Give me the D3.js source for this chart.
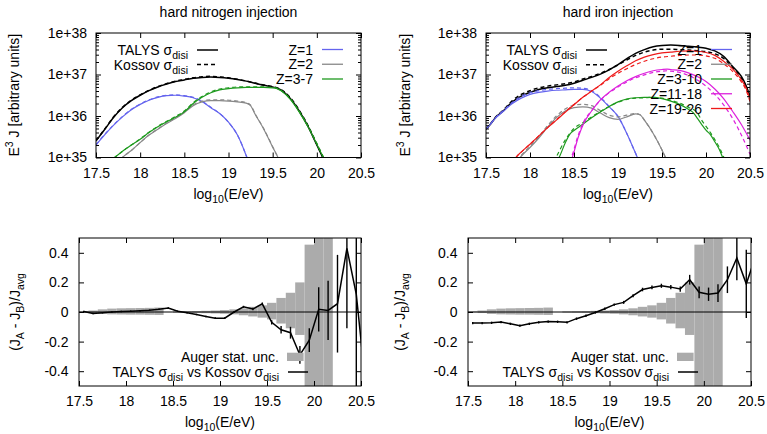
<!DOCTYPE html>
<html>
<head>
<meta charset="utf-8">
<script src="https://cdn.jsdelivr.net/npm/d3@7"></script>
<style>
body { margin: 0; background: #fff; }
text { white-space: pre; }
</style>
</head>
<body>
<div id="chart"></div>
<script>
var FONT = "'Liberation Sans', Arial, Helvetica, sans-serif";

// axis ticks
var xTicks = [17.5, 18, 18.5, 19, 19.5, 20, 20.5];
var xTickLabels = ["17.5", "18", "18.5", "19", "19.5", "20", "20.5"];
var fluxTicks = [1e35, 1e36, 1e37, 1e38];
var fluxTickLabels = ["1e+35", "1e+36", "1e+37", "1e+38"];
var ratioTicks = [-0.4, -0.2, 0, 0.2, 0.4];
var ratioTickLabels = ["-0.4", "-0.2", "0", "0.2", "0.4"];

// E^3 J spectra, [log10(E/eV), log10(E^3 J)]
// hard nitrogen injection
var nTalysAll = [[17.5,35.4],[17.6,35.68],[17.7,35.97],[17.8,36.2],[17.9,36.37],[18.0,36.5],[18.1,36.61],[18.2,36.7],[18.3,36.77],[18.4,36.83],[18.5,36.87],[18.6,36.91],[18.7,36.93],[18.8,36.94],[18.9,36.93],[19.0,36.91],[19.1,36.88],[19.2,36.84],[19.3,36.79],[19.4,36.74],[19.5,36.7],[19.55,36.67],[19.6,36.62],[19.7,36.42],[19.8,36.12],[19.9,35.75],[20.0,35.3],[20.1,34.85]];
var nKossovAll = [[17.5,35.41],[17.6,35.69],[17.7,35.98],[17.8,36.21],[17.9,36.38],[18.0,36.51],[18.1,36.62],[18.2,36.71],[18.3,36.78],[18.4,36.84],[18.5,36.88],[18.6,36.92],[18.7,36.945],[18.8,36.955],[18.9,36.94],[19.0,36.92],[19.1,36.885],[19.2,36.845],[19.3,36.795],[19.4,36.745],[19.5,36.705],[19.55,36.675],[19.6,36.63],[19.7,36.44],[19.8,36.14],[19.9,35.77],[20.0,35.32],[20.1,34.87]];
var nTalysZ1 = [[17.5,35.3],[17.6,35.55],[17.7,35.78],[17.8,35.98],[17.9,36.15],[18.0,36.28],[18.1,36.38],[18.2,36.45],[18.3,36.49],[18.4,36.5],[18.5,36.48],[18.6,36.44],[18.7,36.35],[18.8,36.2],[18.9,36.06],[19.0,35.85],[19.1,35.55],[19.2,35.05],[19.25,34.75]];
var nKossovZ1 = [[17.5,35.31],[17.6,35.56],[17.7,35.79],[17.8,35.99],[17.9,36.16],[18.0,36.29],[18.1,36.39],[18.2,36.46],[18.3,36.5],[18.4,36.51],[18.5,36.49],[18.6,36.45],[18.7,36.36],[18.8,36.21],[18.9,36.06],[19.0,35.85],[19.1,35.55],[19.2,35.05],[19.25,34.75]];
var nTalysZ2 = [[17.78,34.95],[17.8,35.0],[17.9,35.17],[18.0,35.36],[18.1,35.54],[18.2,35.68],[18.3,35.82],[18.4,35.94],[18.5,36.08],[18.6,36.25],[18.7,36.34],[18.8,36.37],[18.9,36.37],[19.0,36.36],[19.1,36.34],[19.2,36.31],[19.25,36.25],[19.3,36.05],[19.4,35.68],[19.5,35.25],[19.56,35.0],[19.6,34.8]];
var nKossovZ2 = [[17.78,34.95],[17.8,35.0],[17.9,35.17],[18.0,35.36],[18.1,35.54],[18.2,35.69],[18.3,35.83],[18.4,35.96],[18.5,36.1],[18.6,36.27],[18.7,36.36],[18.8,36.39],[18.9,36.39],[19.0,36.38],[19.1,36.36],[19.2,36.32],[19.25,36.26],[19.3,36.06],[19.4,35.69],[19.5,35.26],[19.56,35.0],[19.6,34.8]];
var nTalysZ3 = [[17.7,34.98],[17.8,35.15],[17.9,35.3],[18.0,35.44],[18.1,35.6],[18.2,35.74],[18.3,35.86],[18.4,35.97],[18.5,36.1],[18.6,36.3],[18.7,36.45],[18.8,36.56],[18.9,36.63],[19.0,36.66],[19.1,36.68],[19.2,36.69],[19.3,36.69],[19.4,36.69],[19.5,36.68],[19.55,36.66],[19.6,36.6],[19.7,36.4],[19.8,36.1],[19.9,35.74],[20.0,35.32],[20.1,34.88]];
var nKossovZ3 = [[17.7,34.98],[17.8,35.15],[17.9,35.3],[18.0,35.45],[18.1,35.61],[18.2,35.75],[18.3,35.87],[18.4,35.99],[18.5,36.12],[18.6,36.32],[18.7,36.47],[18.8,36.58],[18.9,36.65],[19.0,36.68],[19.1,36.7],[19.2,36.705],[19.3,36.705],[19.4,36.7],[19.5,36.69],[19.55,36.67],[19.6,36.61],[19.7,36.42],[19.8,36.12],[19.9,35.76],[20.0,35.34],[20.1,34.9]];

// hard iron injection
var fTalysAll = [[17.5,35.68],[17.55,35.8],[17.6,35.94],[17.7,36.13],[17.8,36.34],[17.9,36.48],[18.0,36.57],[18.1,36.64],[18.2,36.68],[18.3,36.71],[18.4,36.74],[18.5,36.79],[18.6,36.86],[18.7,36.93],[18.8,37.01],[18.9,37.11],[19.0,37.24],[19.1,37.38],[19.2,37.51],[19.3,37.6],[19.4,37.67],[19.5,37.7],[19.6,37.71],[19.7,37.7],[19.8,37.68],[19.9,37.66],[20.0,37.63],[20.1,37.57],[20.2,37.44],[20.3,37.2],[20.4,36.96],[20.45,36.76],[20.5,36.48]];
var fKossovAll = [[17.5,35.69],[17.55,35.81],[17.6,35.95],[17.7,36.15],[17.8,36.37],[17.9,36.52],[18.0,36.61],[18.1,36.68],[18.2,36.72],[18.3,36.75],[18.4,36.78],[18.5,36.82],[18.6,36.89],[18.7,36.95],[18.8,37.03],[18.9,37.12],[19.0,37.23],[19.1,37.35],[19.2,37.46],[19.3,37.54],[19.4,37.59],[19.5,37.61],[19.6,37.61],[19.7,37.6],[19.8,37.59],[19.9,37.57],[20.0,37.55],[20.1,37.5],[20.2,37.39],[20.3,37.17],[20.4,36.92],[20.45,36.72],[20.5,36.42]];
var fTalysZ1 = [[17.5,35.68],[17.55,35.8],[17.6,35.93],[17.7,36.12],[17.8,36.3],[17.9,36.43],[18.0,36.52],[18.1,36.57],[18.2,36.6],[18.3,36.62],[18.4,36.63],[18.5,36.64],[18.6,36.64],[18.7,36.59],[18.8,36.43],[18.9,36.22],[19.0,35.99],[19.1,35.58],[19.2,35.1],[19.25,34.85]];
var fKossovZ1 = [[17.5,35.69],[17.55,35.81],[17.6,35.94],[17.7,36.14],[17.8,36.33],[17.9,36.47],[18.0,36.56],[18.1,36.61],[18.2,36.64],[18.3,36.66],[18.4,36.67],[18.5,36.68],[18.6,36.67],[18.7,36.61],[18.8,36.45],[18.9,36.23],[19.0,35.99],[19.1,35.58],[19.2,35.1],[19.25,34.85]];
var fTalysZ2 = [[17.85,34.9],[17.9,35.03],[18.0,35.24],[18.1,35.47],[18.2,35.73],[18.3,35.96],[18.4,36.12],[18.5,36.2],[18.6,36.22],[18.7,36.19],[18.8,36.07],[18.9,35.96],[19.0,35.92],[19.1,35.98],[19.2,36.05],[19.25,36.03],[19.3,35.9],[19.4,35.58],[19.5,35.18],[19.55,34.95]];
var fKossovZ2 = [[17.85,34.92],[17.9,35.05],[18.0,35.27],[18.1,35.5],[18.2,35.77],[18.3,36.0],[18.4,36.17],[18.5,36.26],[18.6,36.28],[18.7,36.25],[18.8,36.13],[18.9,36.02],[19.0,35.98],[19.1,36.02],[19.2,36.06],[19.25,36.03],[19.3,35.9],[19.4,35.58],[19.5,35.18],[19.55,34.95]];
var fTalysZ3 = [[18.3,34.9],[18.33,35.0],[18.4,35.35],[18.46,35.58],[18.5,35.65],[18.6,35.8],[18.7,35.96],[18.8,36.1],[18.9,36.23],[19.0,36.34],[19.1,36.41],[19.2,36.44],[19.3,36.45],[19.4,36.45],[19.5,36.42],[19.6,36.36],[19.7,36.28],[19.8,36.16],[19.86,36.07],[19.9,35.95],[19.95,35.8],[20.0,35.66],[20.05,35.55],[20.1,35.38],[20.15,35.2],[20.19,35.0],[20.22,34.85]];
var fKossovZ3 = [[18.27,34.9],[18.3,35.02],[18.4,35.42],[18.5,35.7],[18.6,35.84],[18.7,35.98],[18.8,36.11],[18.9,36.23],[19.0,36.33],[19.1,36.4],[19.2,36.43],[19.3,36.44],[19.4,36.45],[19.5,36.43],[19.6,36.38],[19.7,36.31],[19.8,36.21],[19.9,36.08],[19.95,35.9],[20.0,35.75],[20.05,35.6],[20.1,35.43],[20.15,35.25],[20.2,35.02],[20.23,34.88]];
var fTalysZ11 = [[18.46,34.9],[18.48,35.0],[18.55,35.5],[18.61,35.82],[18.7,36.12],[18.8,36.39],[18.9,36.57],[19.0,36.72],[19.1,36.85],[19.2,36.95],[19.3,37.03],[19.4,37.09],[19.5,37.12],[19.56,37.13],[19.6,37.12],[19.7,37.1],[19.8,37.04],[19.9,36.95],[20.0,36.83],[20.1,36.65],[20.2,36.42],[20.3,36.12],[20.4,35.8],[20.5,35.42]];
var fKossovZ11 = [[18.45,34.9],[18.47,35.0],[18.55,35.55],[18.6,35.82],[18.7,36.13],[18.8,36.38],[18.9,36.56],[19.0,36.7],[19.1,36.82],[19.2,36.92],[19.3,36.99],[19.4,37.05],[19.5,37.08],[19.56,37.09],[19.6,37.08],[19.7,37.05],[19.8,36.98],[19.9,36.87],[20.0,36.72],[20.1,36.52],[20.2,36.27],[20.3,35.95],[20.4,35.55],[20.5,35.08]];
var fTalysZ19 = [[17.8,34.85],[17.84,35.0],[17.9,35.13],[18.0,35.32],[18.1,35.52],[18.2,35.72],[18.3,35.9],[18.4,36.09],[18.5,36.27],[18.6,36.45],[18.7,36.6],[18.8,36.75],[18.9,36.93],[19.0,37.08],[19.1,37.21],[19.2,37.33],[19.3,37.42],[19.4,37.48],[19.5,37.52],[19.6,37.54],[19.7,37.56],[19.8,37.57],[19.9,37.56],[20.0,37.53],[20.1,37.46],[20.2,37.32],[20.3,37.14],[20.4,36.88],[20.45,36.7],[20.5,36.4]];
var fKossovZ19 = [[17.8,34.85],[17.84,35.0],[17.9,35.13],[18.0,35.32],[18.1,35.52],[18.2,35.72],[18.3,35.91],[18.4,36.1],[18.5,36.28],[18.6,36.45],[18.7,36.6],[18.8,36.74],[18.9,36.9],[19.0,37.03],[19.1,37.14],[19.2,37.24],[19.3,37.32],[19.4,37.38],[19.5,37.42],[19.6,37.44],[19.7,37.46],[19.8,37.47],[19.9,37.47],[20.0,37.45],[20.1,37.39],[20.2,37.26],[20.3,37.08],[20.4,36.83],[20.45,36.65],[20.5,36.35]];

// Auger statistical uncertainty, bins of 0.1 in log10(E)
var augerBinLo = [17.5,17.6,17.7,17.8,17.9,18.0,18.1,18.2,18.3,18.4,18.5,18.6,18.7,18.8,18.9,19.0,19.1,19.2,19.3,19.4,19.5,19.6,19.7,19.8,19.9,20.0,20.1];
var augerUp   = [0.004,0.01,0.018,0.023,0.025,0.026,0.027,0.028,0.03,0,0.004,0.005,0.006,0.008,0.01,0.013,0.018,0.025,0.035,0.045,0.062,0.095,0.13,0.2,0.455,0.6,0.6];
var augerDown = [0.003,0.007,0.013,0.016,0.017,0.018,0.018,0.019,0.02,0,0.004,0.005,0.006,0.008,0.01,0.012,0.016,0.022,0.03,0.038,0.05,0.078,0.11,0.155,0.6,0.6,0.6];

// (J_A - J_B)/J_avg, TALYS vs Kossov
var ratioE = [17.55,17.65,17.75,17.85,17.95,18.05,18.15,18.25,18.35,18.45,18.55,18.65,18.75,18.85,18.95,19.05,19.15,19.25,19.35,19.45,19.55,19.65,19.75,19.85,19.95,20.05,20.15,20.25,20.35,20.45,20.55];
var nRatio = [0.003,-0.01,-0.005,0.0,0.003,0.005,0.008,0.012,0.018,0.027,0.005,-0.005,-0.017,-0.03,-0.042,-0.042,0.0,0.035,0.02,0.055,-0.07,-0.12,-0.14,-0.29,-0.19,0.018,0.011,0.056,0.43,0.12,-0.5];
var nRatioErr = [0.005,0.005,0.005,0.005,0.005,0.005,0.005,0.005,0.005,0.005,0.005,0.005,0.005,0.005,0.006,0.006,0.006,0.007,0.008,0.01,0.015,0.025,0.04,0.06,0.08,0.15,0.2,0.33,0.54,0.7,0.9];
var fRatio = [-0.075,-0.075,-0.073,-0.068,-0.08,-0.092,-0.08,-0.07,-0.065,-0.066,-0.07,-0.045,-0.025,-0.003,0.022,0.05,0.065,0.11,0.152,0.166,0.177,0.168,0.155,0.218,0.133,0.12,0.128,0.218,0.365,0.19,0.38];
var fRatioErr = [0.008,0.008,0.008,0.008,0.008,0.008,0.008,0.008,0.008,0.008,0.008,0.008,0.008,0.008,0.008,0.008,0.01,0.01,0.012,0.013,0.014,0.015,0.018,0.033,0.04,0.045,0.06,0.09,0.15,0.23,0.35];

var BLUE = "#6464ee", GREY = "#888888", GREEN = "#1e9a1e", MAGENTA = "#dd22dd", RED = "#ee1a1a";

var svg = d3.select("#chart").append("svg")
    .attr("width", 767)
    .attr("height", 434);

function richText(parent, parts, attrs) {
  var t = parent.append("text")
    .attr("font-family", FONT)
    .attr("font-size", 14)
    .attr("fill", "#000");
  Object.keys(attrs).forEach(function(k) { t.attr(k, attrs[k]); });
  var off = 0;
  parts.forEach(function(p) {
    var kind = p[1] || "";
    var target = kind == "sub" ? 4 : (kind == "sup" ? -6 : 0);
    t.append("tspan")
      .attr("dy", target - off)
      .attr("font-size", kind ? 10.5 : 14)
      .text(p[0]);
    off = target;
  });
  return t;
}

function frameAxes(g, x, y, box, yTicks, yLabels, yMinor, yPad) {
  var fmtX = function(d) { return xTickLabels[xTicks.indexOf(d)]; };
  var fmtY = function(d) { return yLabels[yTicks.indexOf(d)]; };
  var styleAxis = function(a) {
    a.attr("font-family", FONT).attr("font-size", 14);
    a.select(".domain").remove();
    a.selectAll("text").attr("fill", "#000");
  };
  g.append("g").attr("transform", "translate(0," + box.y1 + ")")
    .call(d3.axisBottom(x).tickValues(xTicks).tickFormat(fmtX).tickSizeInner(-5).tickSizeOuter(0).tickPadding(10.5))
    .call(styleAxis);
  g.append("g").attr("transform", "translate(0," + box.y0 + ")")
    .call(d3.axisTop(x).tickValues(xTicks).tickFormat("").tickSizeInner(-5).tickSizeOuter(0))
    .call(styleAxis);
  g.append("g").attr("transform", "translate(" + box.x0 + ",0)")
    .call(d3.axisLeft(y).tickValues(yTicks).tickFormat(fmtY).tickSizeInner(-5).tickSizeOuter(0).tickPadding(yPad))
    .call(styleAxis);
  g.append("g").attr("transform", "translate(" + box.x1 + ",0)")
    .call(d3.axisRight(y).tickValues(yTicks).tickFormat("").tickSizeInner(-5).tickSizeOuter(0))
    .call(styleAxis);
  if (yMinor) {
    g.append("g").attr("transform", "translate(" + box.x0 + ",0)")
      .call(d3.axisLeft(y).tickValues(yMinor).tickFormat("").tickSizeInner(-3).tickSizeOuter(0))
      .call(styleAxis);
    g.append("g").attr("transform", "translate(" + box.x1 + ",0)")
      .call(d3.axisRight(y).tickValues(yMinor).tickFormat("").tickSizeInner(-3).tickSizeOuter(0))
      .call(styleAxis);
  }
  g.append("rect")
    .attr("x", box.x0).attr("y", box.y0)
    .attr("width", box.x1 - box.x0).attr("height", box.y1 - box.y0)
    .attr("fill", "none").attr("stroke", "#000").attr("stroke-width", 1);
}

function xLabel(g, box, yBase) {
  richText(g, [["log"], ["10", "sub"], ["(E/eV)"]],
    {x: (box.x0 + box.x1) / 2, y: yBase, "text-anchor": "middle"});
}

function drawTop(cfg) {
  var box = cfg.box;
  var g = svg.append("g");
  var x = d3.scaleLinear().domain([17.5, 20.5]).range([box.x0, box.x1]);
  var y = d3.scaleLog().domain([1e35, 1e38]).range([box.y1, box.y0]);
  var clipId = "clip" + cfg.id;
  svg.append("clipPath").attr("id", clipId).append("rect")
    .attr("x", box.x0).attr("y", box.y0)
    .attr("width", box.x1 - box.x0).attr("height", box.y1 - box.y0);

  var line = d3.line()
    .x(function(d) { return x(d[0]); })
    .y(function(d) { return y(Math.pow(10, d[1])); })
    .curve(d3.curveMonotoneX);

  var plot = g.append("g").attr("clip-path", "url(#" + clipId + ")");
  cfg.series.forEach(function(s) {
    plot.append("path")
      .datum(s.data)
      .attr("fill", "none")
      .attr("stroke", s.color)
      .attr("stroke-width", s.width)
      .attr("stroke-dasharray", s.dash ? "4,3" : null)
      .attr("d", line);
  });

  var minor = y.ticks().filter(function(v) { return fluxTicks.indexOf(v) < 0; });
  frameAxes(g, x, y, box, fluxTicks, fluxTickLabels, minor, 9);

  g.append("text")
    .attr("x", (box.x0 + box.x1) / 2).attr("y", 17)
    .attr("text-anchor", "middle")
    .attr("font-family", FONT).attr("font-size", 14)
    .text(cfg.title);
  xLabel(g, box, 198.5);
  richText(g, [["E"], ["3", "sup"], [" J [arbitrary units]"]],
    {transform: "translate(" + cfg.yLabelX + "," + (box.y0 + box.y1) / 2 + ") rotate(-90)", "text-anchor": "middle"});

  // key: cross sections (left) and charge groups (right)
  var keyL = cfg.keyLeft;
  [["TALYS ", false, 0], ["Kossov ", true, 1]].forEach(function(k) {
    var cy = keyL.y + k[2] * keyL.dy;
    richText(g, [[k[0] + "\u03c3"], ["disi", "sub"]],
      {x: keyL.x - 9, y: cy + 5, "text-anchor": "end"});
    g.append("line")
      .attr("x1", keyL.x).attr("x2", keyL.x + 21)
      .attr("y1", cy).attr("y2", cy)
      .attr("stroke", "#000").attr("stroke-width", 1.5)
      .attr("stroke-dasharray", k[1] ? "4,3" : null);
  });
  var keyR = cfg.keyRight;
  cfg.groups.forEach(function(grp, i) {
    var cy = keyR.y + i * keyR.dy;
    g.append("text")
      .attr("x", keyR.x - 9).attr("y", cy + 5)
      .attr("text-anchor", "end")
      .attr("font-family", FONT).attr("font-size", 14)
      .text(grp[0]);
    g.append("line")
      .attr("x1", keyR.x).attr("x2", keyR.x + 21)
      .attr("y1", cy).attr("y2", cy)
      .attr("stroke", grp[1]).attr("stroke-width", 1.3);
  });
}

function drawBottom(cfg) {
  var box = cfg.box;
  var g = svg.append("g");
  var x = d3.scaleLinear().domain([17.5, 20.5]).range([box.x0, box.x1]);
  var y = d3.scaleLinear().domain([-0.5, 0.5]).range([box.y1, box.y0]);
  var clipId = "clip" + cfg.id;
  svg.append("clipPath").attr("id", clipId).append("rect")
    .attr("x", box.x0).attr("y", box.y0)
    .attr("width", box.x1 - box.x0).attr("height", box.y1 - box.y0);
  var plot = g.append("g").attr("clip-path", "url(#" + clipId + ")");

  plot.selectAll("rect.unc")
    .data(augerBinLo)
    .enter().append("rect")
      .attr("class", "unc")
      .attr("x", function(d) { return x(d); })
      .attr("width", function(d) { return x(d + 0.1) - x(d); })
      .attr("y", function(d, i) { return y(augerUp[i]); })
      .attr("height", function(d, i) { return y(-augerDown[i]) - y(augerUp[i]); })
      .attr("fill", "#ababab");

  plot.append("line")
    .attr("x1", box.x0).attr("x2", box.x1)
    .attr("y1", y(0)).attr("y2", y(0))
    .attr("stroke", "#000").attr("stroke-width", 1);

  var pts = ratioE.map(function(e, i) { return [e, cfg.ratio[i], cfg.err[i]]; });
  plot.selectAll("line.err")
    .data(pts)
    .enter().append("line")
      .attr("class", "err")
      .attr("x1", function(d) { return x(d[0]); })
      .attr("x2", function(d) { return x(d[0]); })
      .attr("y1", function(d) { return y(d[1] - d[2]); })
      .attr("y2", function(d) { return y(d[1] + d[2]); })
      .attr("stroke", "#000").attr("stroke-width", 1.4);
  plot.append("path")
    .datum(pts)
    .attr("fill", "none")
    .attr("stroke", "#000")
    .attr("stroke-width", 1.5)
    .attr("d", d3.line()
      .x(function(d) { return x(d[0]); })
      .y(function(d) { return y(d[1]); }));

  frameAxes(g, x, y, box, ratioTicks, ratioTickLabels, null, 10.5);
  xLabel(g, box, 427);
  richText(g, [["(J"], ["A", "sub"], [" - J"], ["B", "sub"], [")/J"], ["avg", "sub"]],
    {transform: "translate(" + cfg.yLabelX + "," + (box.y0 + box.y1) / 2 + ") rotate(-90)", "text-anchor": "middle"});

  var k = cfg.key;
  g.append("text")
    .attr("x", k.x - 9).attr("y", 362)
    .attr("text-anchor", "end")
    .attr("font-family", FONT).attr("font-size", 14)
    .text("Auger stat. unc.");
  g.append("rect")
    .attr("x", k.x - 1).attr("y", 352.7)
    .attr("width", 16.6).attr("height", 8.3)
    .attr("fill", "#ababab");
  richText(g, [["TALYS \u03c3"], ["disi", "sub"], [" vs Kossov \u03c3"], ["disi", "sub"]],
    {x: k.x - 9, y: 377, "text-anchor": "end"});
  g.append("line")
    .attr("x1", k.x).attr("x2", k.x + 20)
    .attr("y1", 372).attr("y2", 372)
    .attr("stroke", "#000").attr("stroke-width", 1.5);
}

drawTop({
  id: "tl",
  box: {x0: 96, x1: 361, y0: 33, y1: 157.5},
  title: "hard nitrogen injection",
  yLabelX: 19,
  keyLeft: {x: 197, y: 50, dy: 14.5},
  keyRight: {x: 322, y: 49.5, dy: 14.75},
  groups: [["Z=1", BLUE], ["Z=2", GREY], ["Z=3-7", GREEN]],
  series: [
    {data: nTalysAll, color: "#000", width: 1.5},
    {data: nKossovAll, color: "#000", width: 1.5, dash: true},
    {data: nTalysZ1, color: BLUE, width: 1.2},
    {data: nKossovZ1, color: BLUE, width: 1.2, dash: true},
    {data: nTalysZ2, color: GREY, width: 1.2},
    {data: nKossovZ2, color: GREY, width: 1.2, dash: true},
    {data: nTalysZ3, color: GREEN, width: 1.2},
    {data: nKossovZ3, color: GREEN, width: 1.2, dash: true}
  ]
});

drawTop({
  id: "tr",
  box: {x0: 486, x1: 750, y0: 33, y1: 157.5},
  title: "hard iron injection",
  yLabelX: 410,
  keyLeft: {x: 586, y: 50, dy: 14.8},
  keyRight: {x: 711, y: 49.5, dy: 14.75},
  groups: [["Z=1", BLUE], ["Z=2", GREY], ["Z=3-10", GREEN], ["Z=11-18", MAGENTA], ["Z=19-26", RED]],
  series: [
    {data: fTalysAll, color: "#000", width: 1.5},
    {data: fKossovAll, color: "#000", width: 1.5, dash: true},
    {data: fTalysZ1, color: BLUE, width: 1.2},
    {data: fKossovZ1, color: BLUE, width: 1.2, dash: true},
    {data: fTalysZ2, color: GREY, width: 1.2},
    {data: fKossovZ2, color: GREY, width: 1.2, dash: true},
    {data: fTalysZ3, color: GREEN, width: 1.2},
    {data: fKossovZ3, color: GREEN, width: 1.2, dash: true},
    {data: fTalysZ11, color: MAGENTA, width: 1.2},
    {data: fKossovZ11, color: MAGENTA, width: 1.2, dash: true},
    {data: fTalysZ19, color: RED, width: 1.2},
    {data: fKossovZ19, color: RED, width: 1.2, dash: true}
  ]
});

drawBottom({
  id: "bl",
  box: {x0: 79, x1: 361, y0: 238, y1: 386},
  yLabelX: 20,
  key: {x: 288},
  ratio: nRatio,
  err: nRatioErr
});

drawBottom({
  id: "br",
  box: {x0: 468, x1: 751, y0: 238, y1: 386},
  yLabelX: 405,
  key: {x: 678},
  ratio: fRatio,
  err: fRatioErr
});
</script>
</body>
</html>
